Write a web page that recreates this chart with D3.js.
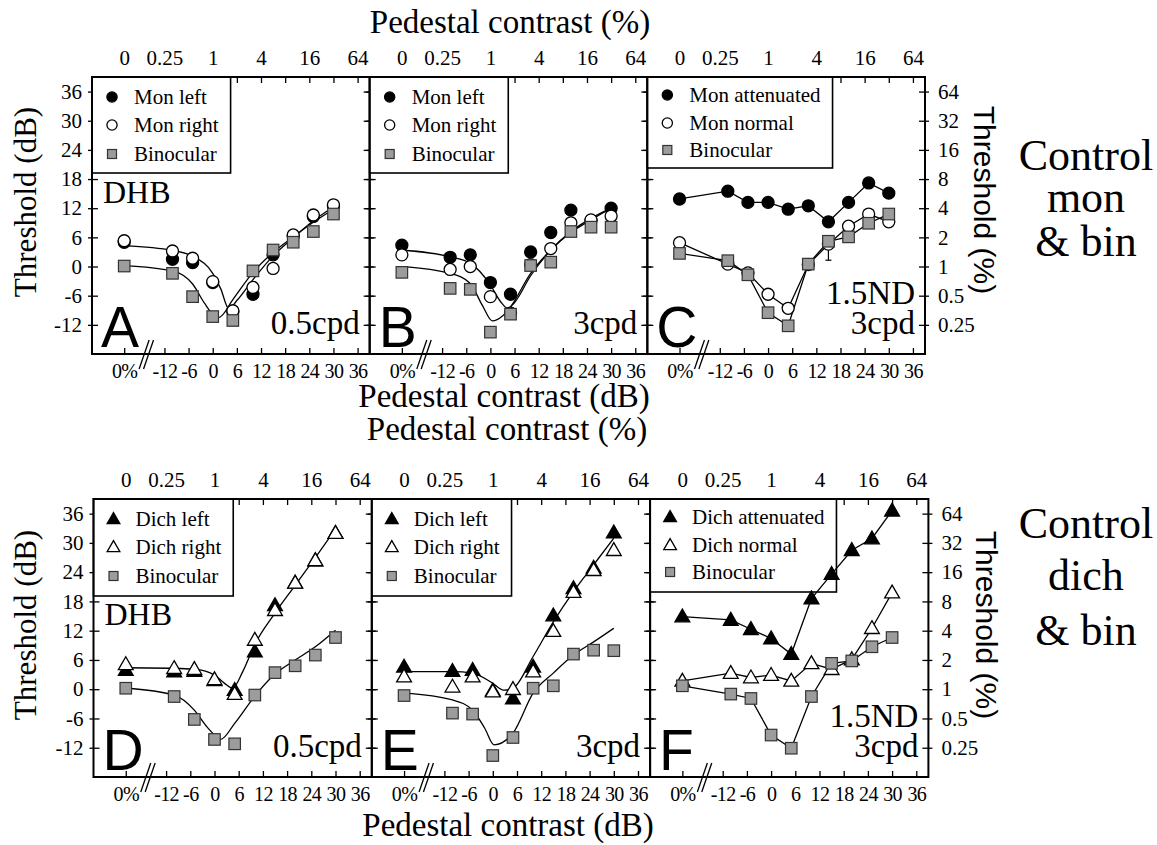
<!DOCTYPE html>
<html><head><meta charset="utf-8">
<script src="https://cdn.jsdelivr.net/npm/d3@7/dist/d3.min.js"></script>
<style>
body{margin:0;background:#fff;}
</style></head><body>
<svg id="chart" width="1157" height="845"></svg>
<script>
// ---------------- data ----------------
const pedestals = ["0%", -10, -5, 0, 5, 10, 15, 20, 25, 30];      // pedestal contrast (dB), "0%" = no pedestal
const bottomTickLabels = ["0%", -12, -6, 0, 6, 12, 18, 24, 30, 36];
const topTickPositions = ["0%", -12, 0, 12, 24, 36];
const topTickLabels = ["0", "0.25", "1", "4", "16", "64"];
const leftTicks = [-12, -6, 0, 6, 12, 18, 24, 30, 36];
const rightTickLabels = ["0.25", "0.5", "1", "2", "4", "8", "16", "32", "64"];

// Panel A (DHB, 0.5cpd)
const aMonLeft  = [5.0, 1.5, 0.8, -3.3, -9.3, -5.7, 2.4, 6.3, 10.3, 12.4];
const aMonRight = [5.3, 3.2, 1.7, -3.1, -9.1, -4.3, -0.4, 6.5, 10.6, 12.7];
const aBino     = [0.1, -1.4, -6.2, -10.3, -11.1, -0.9, 3.4, 5.0, 7.2, 10.8];
const aFitMon   = [["0%",4.3],[-10,3.3],[-5,2.1],[0,-1.4],[2,-4.6],[4,-8.7],[6,-7.0],[10,-2.7],[15,2.2],[20,5.9],[25,9.4],[30,12.3]];
const aFitBino  = [["0%",0.2],[-10,-0.9],[-5,-3.6],[-2,-7.6],[0,-9.8],[1.5,-10.5],[5,-6.8],[10,-1.2],[15,2.9],[20,6.1],[25,9.1],[30,11.8]];

// Panel B (3cpd)
const bMonLeft  = [4.4, 1.9, 2.4, -3.3, -5.7, 3.0, 7.0, 11.6, 9.5, 12.0];
const bMonRight = [2.4, -0.6, 0.0, -6.2, -9.6, 0.4, 3.7, 9.0, 9.6, 10.4];
const bBino     = [-1.2, -4.5, -4.7, -13.5, -9.8, 0.2, 0.9, 7.2, 8.1, 8.1];
const bFitMon   = [["0%",3.4],[-10,2.0],[-5,0.7],[0,-3.8],[2.5,-7.2],[4.3,-8.6],[6,-7.4],[10,-1.9],[15,3.4],[20,7.2],[25,9.9],[30,12.0]];
const bFitBino  = [["0%",0.0],[-10,-1.4],[-5,-3.5],[-2,-8.0],[0.5,-11.2],[3,-10.2],[5,-8.3],[10,-1.4],[15,3.4],[20,7.0],[25,9.6],[30,12.0]];

// Panel C (1.5ND, 3cpd)
const cMonAtt   = [13.9, 15.5, 13.2, 13.2, 11.8, 12.5, 9.2, 13.2, 17.2, 15.1];
const cMonNorm  = [4.9, 0.5, -1.3, -5.7, -8.6, 0.4, 4.6, 8.3, 10.8, 9.2];
const cBino     = [2.7, 1.2, -1.7, -9.5, -12.2, 0.5, 5.2, 6.1, 8.9, 10.8];
const cMonNormErr = [[15, 1.3, 4.6]];

// Panel D (DHB, 0.5cpd)
const dDichLeft  = [3.9, 3.6, 3.7, 1.8, -0.2, 7.7, 17.2, 21.8, 26.4, 32.0];
const dDichRight = [5.1, 4.3, 4.1, 2.0, -1.0, 10.1, 16.2, 21.8, 26.4, 32.0];
const dBino      = [0.2, -1.5, -6.2, -10.3, -11.2, -1.2, 3.4, 4.8, 7.0, 10.6];
const dFitDich   = [["0%",4.4],[-10,4.3],[-5,4.1],[0,2.9],[2.5,1.2],[4.5,0.2],[7,3.6],[10,9.2],[15,15.6],[20,21.3],[25,27.0],[30,32.8]];
const dFitBino   = [["0%",0.2],[-10,-1.2],[-5,-4.3],[-2,-7.6],[0,-9.4],[1.5,-10.3],[5,-7.0],[10,-1.4],[15,3.1],[20,6.0],[25,8.7],[30,12.1]];

// Panel E (3cpd)
const eDichLeft  = [4.6, 3.7, 3.9, -0.3, -1.9, 4.6, 15.1, 20.7, 24.9, 32.1];
const eDichRight = [2.6, 0.5, 2.6, -0.5, 0.0, 3.6, 11.9, 19.9, 24.4, 28.5];
const eBino      = [-1.3, -4.9, -5.1, -13.6, -9.9, 0.2, 0.7, 7.2, 8.0, 7.9];
const eFitDich   = [["0%",3.6],[-10,3.6],[-5,3.3],[0,1.2],[2.7,-0.2],[5,0.2],[10,6.7],[15,13.8],[20,20.0],[25,25.5],[30,31.0]];
const eFitBino   = [["0%",-0.8],[-10,-2.2],[-5,-4.3],[-2,-8.0],[0.3,-11.4],[5,-9.0],[10,-0.8],[15,3.3],[20,7.0],[25,9.7],[30,12.5]];

// Panel F (1.5ND, 3cpd)
const fDichAtt  = [14.9, 14.2, 12.3, 10.4, 7.2, 18.6, 23.6, 28.5, 30.9, 36.6];
const fDichNorm = [1.7, 3.3, 2.4, 2.9, 1.7, 5.3, 4.1, 6.1, 12.5, 19.8];
const fBino     = [0.7, -1.0, -1.9, -9.4, -12.1, -1.5, 5.3, 5.8, 8.7, 10.6];

// ---------------- layout ----------------
const SERIF = '"Liberation Serif","Times New Roman",Times,serif';
const SANS = '"Liberation Sans",Arial,Helvetica,sans-serif';
const ZERO_AT = -22;            // axis position of the 0% pedestal
const xDomain = [-30, 39];
const yDomain = [-18, 39];
const rows = [
  {y0: 77, h: 277, x0s: [92, 369.67, 647.33], w: 277.67},
  {y0: 499, h: 278, x0s: [93.5, 371.8, 650.1], w: 278.3}
];
const GRAY = "#9c9c9c";

const panels = [
  {row:0, col:0, letter:"A", subj:"DHB", info:["0.5cpd"], legendRows:[20,48,77], legendH:96,
   series:[{name:"Mon left", v:aMonLeft, m:"fc"},{name:"Mon right", v:aMonRight, m:"oc"},{name:"Binocular", v:aBino, m:"sq"}],
   fits:[aFitMon, aFitBino], connect:false},
  {row:0, col:1, letter:"B", info:["3cpd"], legendRows:[20,48,77], legendH:96,
   series:[{name:"Mon left", v:bMonLeft, m:"fc"},{name:"Mon right", v:bMonRight, m:"oc"},{name:"Binocular", v:bBino, m:"sq"}],
   fits:[bFitMon, bFitBino], connect:false},
  {row:0, col:2, letter:"C", info:["1.5ND","3cpd"], legendRows:[18,46,73], legendH:91,
   series:[{name:"Mon attenuated", v:cMonAtt, m:"fc"},{name:"Mon normal", v:cMonNorm, m:"oc", err:cMonNormErr},{name:"Binocular", v:cBino, m:"sq"}],
   fits:[], connect:true},
  {row:1, col:0, letter:"D", subj:"DHB", info:["0.5cpd"], legendRows:[20,48,77], legendH:97,
   series:[{name:"Dich left", v:dDichLeft, m:"ft"},{name:"Dich right", v:dDichRight, m:"ot"},{name:"Binocular", v:dBino, m:"sq"}],
   fits:[dFitDich, dFitBino], connect:false},
  {row:1, col:1, letter:"E", info:["3cpd"], legendRows:[20,48,77], legendH:97,
   series:[{name:"Dich left", v:eDichLeft, m:"ft"},{name:"Dich right", v:eDichRight, m:"ot"},{name:"Binocular", v:eBino, m:"sq"}],
   fits:[eFitDich, eFitBino], connect:false},
  {row:1, col:2, letter:"F", info:["1.5ND","3cpd"], legendRows:[18,46,73], legendH:93,
   series:[{name:"Dich attenuated", v:fDichAtt, m:"ft"},{name:"Dich normal", v:fDichNorm, m:"ot"},{name:"Binocular", v:fBino, m:"sq"}],
   fits:[], connect:true}
];

const svg = d3.select("#chart");
const pos = v => (v === "0%" ? ZERO_AT : v);

function marker(g, type, cx, cy, legend) {
  const s = legend ? 0.85 : 1;
  if (type === "fc" || type === "oc") {
    g.append("circle").attr("cx", cx).attr("cy", cy).attr("r", 6 * s)
      .attr("fill", type === "fc" ? "#000" : "#fff").attr("stroke", "#000").attr("stroke-width", 1.3);
  } else if (type === "sq") {
    const a = (legend ? 9 : 11.5);
    g.append("rect").attr("x", cx - a/2).attr("y", cy - a/2).attr("width", a).attr("height", a)
      .attr("fill", GRAY).attr("stroke", "#333").attr("stroke-width", 1.2);
  } else {
    g.append("path").attr("transform", `translate(${cx},${cy + 1})`)
      .attr("d", d3.symbol(d3.symbolTriangle, legend ? 70 : 95)())
      .attr("fill", type === "ft" ? "#000" : "#fff").attr("stroke", "#000").attr("stroke-width", 1.3);
  }
}

function styleAxis(ga, size) {
  ga.select(".domain").remove();
  ga.selectAll(".tick line").attr("stroke", "#000").attr("stroke-width", 1.3);
  ga.selectAll("text").attr("font-family", SERIF).attr("font-size", size || 21).attr("fill", "#000");
}

panels.forEach(p => {
  const R = rows[p.row];
  const x0 = R.x0s[p.col], w = R.w, y0 = R.y0, h = R.h;
  const x = d3.scaleLinear().domain(xDomain).range([x0, x0 + w]);
  const y = d3.scaleLinear().domain(yDomain).range([y0 + h, y0]);
  const g = svg.append("g");

  const bottomVals = bottomTickLabels.map(pos);
  // bottom axis (dB)
  const gb = g.append("g").attr("transform", `translate(0,${y0 + h})`)
    .call(d3.axisBottom(x).tickValues(bottomVals)
      .tickFormat((v, i) => String(bottomTickLabels[i]))
      .tickSizeInner(-6).tickSizeOuter(0).tickPadding(10));
  styleAxis(gb, 20);
  gb.selectAll("text").attr("letter-spacing", -0.6);
  // top axis tick marks
  const gt = g.append("g").attr("transform", `translate(0,${y0})`)
    .call(d3.axisTop(x).tickValues(bottomVals).tickFormat("").tickSizeInner(-6).tickSizeOuter(0));
  styleAxis(gt);
  // top axis labels (%)
  const gtl = g.append("g").attr("transform", `translate(0,${y0})`)
    .call(d3.axisTop(x).tickValues(topTickPositions.map(pos))
      .tickFormat((v, i) => topTickLabels[i]).tickSize(0).tickPadding(12));
  styleAxis(gtl);
  // left axis
  const gl = g.append("g").attr("transform", `translate(${x0},0)`)
    .call(d3.axisLeft(y).tickValues(leftTicks)
      .tickFormat(p.col === 0 ? (v => String(v)) : "")
      .tickSizeInner(-6).tickSizeOuter(0).tickPadding(10));
  styleAxis(gl);
  gl.selectAll(".tick").append("line").attr("x1", -4).attr("x2", 0).attr("stroke", "#000").attr("stroke-width", 1.3);
  // right axis
  const gr = g.append("g").attr("transform", `translate(${x0 + w},0)`)
    .call(d3.axisRight(y).tickValues(leftTicks)
      .tickFormat(p.col === 2 ? ((v, i) => rightTickLabels[i]) : "")
      .tickSizeInner(-6).tickSizeOuter(0).tickPadding(13));
  styleAxis(gr);
  gr.selectAll(".tick").append("line").attr("x1", 0).attr("x2", 4).attr("stroke", "#000").attr("stroke-width", 1.3);

  // axis break mark
  const bx = x(-16.5), by = y0 + h;
  [-2.2, 2.2].forEach(o => {
    g.append("line").attr("x1", bx + o - 5).attr("y1", by + 15).attr("x2", bx + o + 5).attr("y2", by - 14)
      .attr("stroke", "#000").attr("stroke-width", 1.3);
  });

  // legend
  const lg = g.append("g");
  const box = lg.append("rect").attr("x", x0).attr("y", y0).attr("height", p.legendH)
    .attr("fill", "#fff").attr("stroke", "#000").attr("stroke-width", 1.6);
  let maxW = 0;
  p.series.forEach((s, i) => {
    const cy = y0 + p.legendRows[i];
    marker(lg, s.m, x0 + 20, cy, true);
    const t = lg.append("text").attr("x", x0 + 42).attr("y", cy).attr("dy", "0.33em")
      .attr("font-family", SERIF).attr("font-size", 21).text(s.name);
    maxW = Math.max(maxW, t.node().getComputedTextLength());
  });
  box.attr("width", 42 + maxW + 12);

  // frame
  g.append("rect").attr("x", x0).attr("y", y0).attr("width", w).attr("height", h)
    .attr("fill", "none").attr("stroke", "#000").attr("stroke-width", 2);

  // fitted curves
  const fitLine = d3.line().x(d => x(pos(d[0]))).y(d => y(d[1])).curve(d3.curveMonotoneX);
  p.fits.forEach(f => {
    g.append("path").attr("d", fitLine(f)).attr("fill", "none").attr("stroke", "#000").attr("stroke-width", 1.3);
  });
  // connecting lines
  if (p.connect) {
    const ln = d3.line().x((d, i) => x(pos(pedestals[i]))).y(d => y(d));
    p.series.forEach(s => {
      g.append("path").attr("d", ln(s.v)).attr("fill", "none").attr("stroke", "#000").attr("stroke-width", 1.3);
    });
  }
  // error bars
  p.series.forEach(s => {
    (s.err || []).forEach(e => {
      const ex = x(pos(e[0]));
      g.append("line").attr("x1", ex).attr("x2", ex).attr("y1", y(e[1])).attr("y2", y(e[2])).attr("stroke", "#000").attr("stroke-width", 1.2);
      g.append("line").attr("x1", ex - 3).attr("x2", ex + 3).attr("y1", y(e[1])).attr("y2", y(e[1])).attr("stroke", "#000").attr("stroke-width", 1.2);
    });
  });
  // markers
  p.series.forEach(s => {
    s.v.forEach((v, i) => marker(g, s.m, x(pos(pedestals[i])), y(v), false));
  });

  // panel letter
  g.append("text").attr("x", x0 + 9).attr("y", y0 + h - 7)
    .attr("font-family", SANS).attr("font-size", 57).text(p.letter);
  if (p.subj) {
    g.append("text").attr("x", x0 + 11).attr("y", y0 + 126)
      .attr("font-family", SERIF).attr("font-size", 32).text(p.subj);
  }
  const n = p.info.length;
  p.info.forEach((t, i) => {
    g.append("text").attr("x", x0 + w - 10).attr("y", y0 + h - 20 - (n - 1 - i) * 30)
      .attr("text-anchor", "end").attr("font-family", SERIF).attr("font-size", 33).text(t);
  });
});

// ---------------- titles ----------------
function txt(t, xx, yy, size, fam, anchor, rot) {
  const e = svg.append("text").attr("font-family", fam).attr("font-size", size)
    .attr("text-anchor", anchor || "middle").text(t);
  if (rot) e.attr("transform", `translate(${xx},${yy}) rotate(${rot})`);
  else e.attr("x", xx).attr("y", yy);
  return e;
}
txt("Pedestal contrast (%)", 510, 33, 33, SERIF);
txt("Pedestal contrast (dB)", 504, 407, 33, SERIF);
txt("Pedestal contrast (%)", 507, 440, 33, SERIF);
txt("Pedestal contrast (dB)", 508, 836, 33, SERIF);
txt("Threshold (dB)", 36, 202, 31, SERIF, "middle", -90);
txt("Threshold (dB)", 36, 625, 31, SERIF, "middle", -90);
txt("Threshold (%)", 974, 200, 30, SANS, "middle", 90);
txt("Threshold (%)", 976, 625, 30, SANS, "middle", 90);
const sideTop = ["Control", "mon", "& bin"];
const sideBottom = ["Control", "dich", "& bin"];
[170, 212, 256].forEach((yy, i) => txt(sideTop[i], 1086, yy, 44, SERIF));
[538, 590, 645].forEach((yy, i) => txt(sideBottom[i], 1086, yy, 44, SERIF));
</script>
</body></html>
